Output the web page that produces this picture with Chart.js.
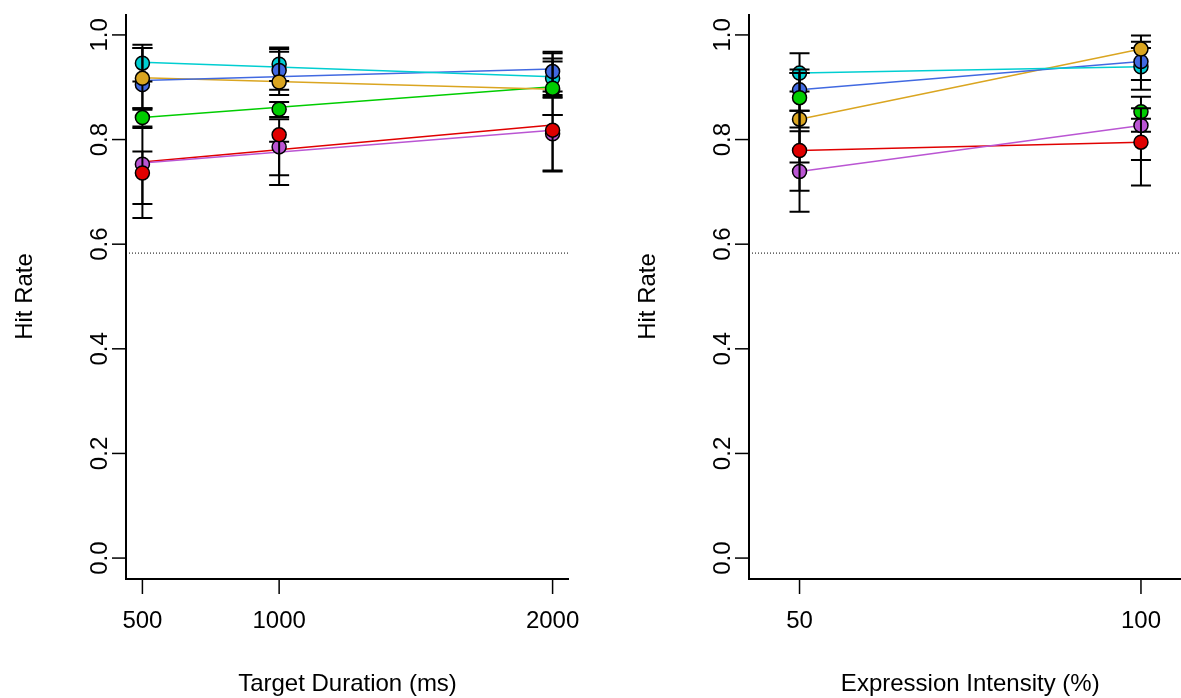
<!DOCTYPE html>
<html>
<head>
<meta charset="utf-8">
<script src="https://cdn.jsdelivr.net/npm/chart.js@4.4.1/dist/chart.umd.min.js"></script>
<style>
  body { margin: 0; background: #fff; overflow: hidden; width: 1181px; height: 698px; position: relative; }
  canvas { position: absolute; top: 0; }
  #durChart { left: 0; }
  #intChart { left: 590px; }
</style>
</head>
<body>
<canvas id="durChart" width="590" height="698"></canvas>
<canvas id="intChart" width="610" height="698"></canvas>
<script>
// series drawn in this order: cyan, blue, gold, green, purple, red
const seriesColors = ['#00CED1', '#4169E1', '#DAA520', '#00CD00', '#BA55D3', '#E00000'];

const durations = [500, 1000, 2000];
const intensities = [50, 100];
const yTicks = [0, 0.2, 0.4, 0.6, 0.8, 1.0];
const yTickLabels = ['0.0', '0.2', '0.4', '0.6', '0.8', '1.0'];
const chanceLevel = 0.583;

// hit rate by target duration
const durMean = [
  [0.946, 0.944, 0.917],
  [0.905, 0.932, 0.930],
  [0.917, 0.910, 0.895],
  [0.842, 0.858, 0.898],
  [0.753, 0.786, 0.811],
  [0.736, 0.809, 0.818]
];
const durLow = [
  [0.911, 0.912, 0.882],
  [0.860, 0.895, 0.892],
  [0.857, 0.885, 0.847],
  [0.825, 0.843, 0.885],
  [0.677, 0.713, 0.741],
  [0.650, 0.732, 0.739]
];
const durHigh = [
  [0.981, 0.976, 0.955],
  [0.975, 0.973, 0.968],
  [0.975, 0.968, 0.965],
  [0.860, 0.872, 0.949],
  [0.777, 0.796, 0.880],
  [0.822, 0.839, 0.847]
];
// fitted line, value at 500 and at 2000 ms
const durFit = [
  [0.948, 0.920],
  [0.913, 0.935],
  [0.918, 0.896],
  [0.842, 0.901],
  [0.755, 0.818],
  [0.757, 0.828]
];

// hit rate by expression intensity
const intMean = [
  [0.927, 0.939],
  [0.895, 0.949],
  [0.839, 0.973],
  [0.880, 0.853],
  [0.739, 0.827],
  [0.779, 0.795]
];
const intLow = [
  [0.892, 0.895],
  [0.855, 0.914],
  [0.756, 0.914],
  [0.823, 0.815],
  [0.662, 0.761],
  [0.702, 0.712]
];
const intHigh = [
  [0.965, 0.975],
  [0.934, 0.987],
  [0.927, 0.999],
  [0.927, 0.882],
  [0.816, 0.860],
  [0.855, 0.840]
];
// no line for green here
const intFit = [
  [0.927, 0.939],
  [0.895, 0.949],
  [0.839, 0.973],
  null,
  [0.739, 0.827],
  [0.779, 0.795]
];

const FONT = '24px "Liberation Sans", Arial, sans-serif';

const rAxes = {
  id: 'rAxes',
  beforeDatasetsDraw(chart) {
    const { ctx, chartArea: a, scales: { y } } = chart;
    const py = y.getPixelForValue(chanceLevel);
    ctx.save();
    ctx.strokeStyle = '#000';
    ctx.lineWidth = 1;
    ctx.setLineDash([1, 2]);
    ctx.beginPath();
    ctx.moveTo(a.left, py);
    ctx.lineTo(a.right, py);
    ctx.stroke();
    ctx.restore();
  },
  beforeDatasetDraw(chart, args) {
    const ds = chart.data.datasets[args.index];
    if (!ds.errLow) return;
    const { ctx, scales: { x, y } } = chart;
    ctx.save();
    ctx.strokeStyle = '#000';
    ctx.lineWidth = 2;
    ds.data.forEach((p, i) => {
      const px = x.getPixelForValue(p.x);
      const lo = y.getPixelForValue(ds.errLow[i]);
      const hi = y.getPixelForValue(ds.errHigh[i]);
      ctx.beginPath();
      ctx.moveTo(px, lo); ctx.lineTo(px, hi);
      ctx.moveTo(px - 10, lo); ctx.lineTo(px + 10, lo);
      ctx.moveTo(px - 10, hi); ctx.lineTo(px + 10, hi);
      ctx.stroke();
    });
    ctx.restore();
  },
  afterDraw(chart) {
    const { ctx, chartArea: a, scales: { x, y } } = chart;
    const opts = chart.options.plugins.rAxes;
    ctx.save();
    ctx.strokeStyle = '#000';
    ctx.fillStyle = '#000';
    ctx.lineWidth = 2;
    // L-shaped frame
    ctx.beginPath();
    ctx.moveTo(a.left, a.top);
    ctx.lineTo(a.left, a.bottom);
    ctx.lineTo(a.right, a.bottom);
    ctx.stroke();

    ctx.lineWidth = 1.5;
    ctx.font = FONT;
    ctx.textAlign = 'center';
    ctx.textBaseline = 'middle';

    yTicks.forEach((v, i) => {
      const py = y.getPixelForValue(v);
      ctx.beginPath();
      ctx.moveTo(a.left - 14, py);
      ctx.lineTo(a.left, py);
      ctx.stroke();
      ctx.save();
      ctx.translate(a.left - 26, py);
      ctx.rotate(-Math.PI / 2);
      ctx.fillText(yTickLabels[i], 0, 0);
      ctx.restore();
    });

    opts.xTicks.forEach(v => {
      const px = x.getPixelForValue(v);
      ctx.beginPath();
      ctx.moveTo(px, a.bottom);
      ctx.lineTo(px, a.bottom + 15);
      ctx.stroke();
      ctx.fillText(String(v), px, a.bottom + 42);
    });

    ctx.fillText(opts.xTitle, (a.left + a.right) / 2, a.bottom + 105);
    ctx.save();
    ctx.translate(a.left - 101, (a.top + a.bottom) / 2);
    ctx.rotate(-Math.PI / 2);
    ctx.fillText('Hit Rate', 0, 0);
    ctx.restore();
    ctx.restore();
  }
};

function makePanel(canvasId, xs, means, lows, highs, fits, xMin, xMax, xTitle, padLeft, padRight) {
  const datasets = [];
  means.forEach((row, s) => {
    datasets.push({
      type: 'scatter',
      data: row.map((v, i) => ({ x: xs[i], y: v })),
      errLow: lows[s],
      errHigh: highs[s],
      pointRadius: 7,
      pointHoverRadius: 7,
      backgroundColor: seriesColors[s],
      borderColor: '#000',
      borderWidth: 1.5,
      order: means.length - s
    });
  });
  fits.forEach((f, s) => {
    if (!f) return;
    datasets.push({
      type: 'line',
      data: [{ x: xs[0], y: f[0] }, { x: xs[xs.length - 1], y: f[1] }],
      borderColor: seriesColors[s],
      borderWidth: 1.5,
      pointRadius: 0,
      fill: false,
      order: 20
    });
  });

  new Chart(document.getElementById(canvasId).getContext('2d'), {
    data: { datasets: datasets },
    options: {
      responsive: false,
      animation: false,
      layout: { padding: { left: padLeft, right: padRight, top: 14, bottom: 119 } },
      scales: {
        x: { type: 'linear', display: false, min: xMin, max: xMax },
        y: { type: 'linear', display: false, min: -0.04, max: 1.04 }
      },
      plugins: {
        legend: { display: false },
        tooltip: { enabled: false },
        rAxes: { xTicks: xs, xTitle: xTitle }
      }
    },
    plugins: [rAxes]
  });
}

makePanel('durChart', durations, durMean, durLow, durHigh, durFit,
  440, 2060, 'Target Duration (ms)', 126, 21);
makePanel('intChart', intensities, intMean, intLow, intHigh, intFit,
  42.6, 107.4, 'Expression Intensity (%)', 159, 6);
</script>
</body>
</html>
